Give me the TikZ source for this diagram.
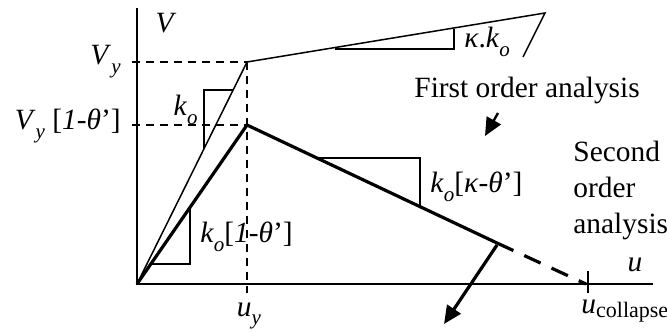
\documentclass[tikz,border=0pt]{standalone}
\usepackage{fontspec}
\setmainfont{Liberation Serif}
\usetikzlibrary{arrows.meta}
\newcommand{\lsub}[1]{\raisebox{-0.3em}{\fontsize{10.5}{12}\selectfont #1}}
\begin{document}
\begin{tikzpicture}[x=0.5pt,y=-0.5pt,
  thinline/.style={line width=0.75pt},
  boldline/.style={line width=1.6pt},
  dashline/.style={line width=0.75pt,dash pattern=on 4pt off 3pt},
  lbl/.style={inner sep=0pt,font=\fontsize{14.7}{17}\selectfont}]
\useasboundingbox (0,0) rectangle (667,331);
% key points
\coordinate (O) at (137,284);
\coordinate (Ytop) at (137,8);
\coordinate (Xend) at (653,284);
\coordinate (A) at (247,62);
\coordinate (B) at (545,13);
\coordinate (C) at (523,57);
\coordinate (P) at (247,125);
\coordinate (Q) at (497,243);
\coordinate (R) at (586,284);
\coordinate (Adl) at (132,62);
\coordinate (Pdl) at (132,125);
\coordinate (Ubot) at (247,293);
% axes
\draw[thinline] (Ytop) -- (O) -- (Xend);
% dashed guides
\draw[dashline] (Adl) -- (A);
\draw[dashline] (Pdl) -- (P);
\draw[dashline] (A) -- (Ubot);
% first order
\draw[thinline] (O) -- (A) -- (B) -- (C);
% second order
\draw[boldline,line join=miter] (O) -- (P) -- (Q);
\draw[boldline,dash pattern=on 9pt off 6pt] (Q) -- (R);
% collapse tick
\coordinate (Tt) at (588,271);
\coordinate (Tb) at (588,293);
\draw[thinline] (Tt) -- (Tb);
% slope triangles
\coordinate (k1a) at (204,149);
\coordinate (k1b) at (204,90);
\coordinate (k1c) at (233,90);
\draw[thinline] (k1a) -- (k1b) -- (k1c);
\coordinate (k2a) at (335,49);
\coordinate (k2b) at (454,49);
\coordinate (k2c) at (454,29);
\draw[thinline] (k2a) -- (k2b) -- (k2c);
\coordinate (k3a) at (319,158);
\coordinate (k3b) at (420,158);
\coordinate (k3c) at (420,205);
\draw[thinline] (k3a) -- (k3b) -- (k3c);
\coordinate (k4a) at (152,264);
\coordinate (k4b) at (190,264);
\coordinate (k4c) at (190,207);
\draw[thinline] (k4a) -- (k4b) -- (k4c);
% arrows
\coordinate (a1s) at (498,113);
\coordinate (a1e) at (485,136);
\draw[line width=1.2pt,-{Triangle[length=9pt,width=8pt]}] (a1s) -- (a1e);
\coordinate (a2s) at (497,245);
\coordinate (a2e) at (444,324);
\draw[line width=1.6pt,-{Triangle[length=9pt,width=8pt]}] (a2s) -- (a2e);
% labels
\node[lbl] (lV) at (166,23) {\textit{V}};
\node[lbl,anchor=east] (lVy) at (121,62) {\textit{V}\lsub{\textit{y}}};
\node[lbl,anchor=east] (lVy2) at (121,126) {\textit{V}\lsub{\textit{y}} [\textit{1}-\textit{θ}’]};
\node[lbl,anchor=east] (lko) at (198,110) {\textit{k}\lsub{\textit{o}}};
\node[lbl,anchor=west] (lkk) at (464,42) {\textit{κ}.\textit{k}\lsub{\textit{o}}};
\node[lbl,anchor=west] (lfirst) at (414,90) {First order analysis};
\node[lbl,anchor=base west] (lsec1) at (573,162) {Second};
\node[lbl,anchor=base west] (lsec2) at (573,197) {order};
\node[lbl,anchor=base west] (lsec3) at (573,233) {analysis};
\node[lbl,anchor=west] (lk3) at (430,187) {\textit{k}\lsub{\textit{o}}[\textit{κ}-\textit{θ}’]};
\node[lbl,anchor=west] (lk4) at (200,237) {\textit{k}\lsub{\textit{o}}[\textit{1}-\textit{θ}’]};
\node[lbl] (luy) at (249,316) {\textit{u}\lsub{\textit{y}}};
\node[lbl] (lu) at (635,265) {\textit{u}};
\node[lbl,anchor=base west] (luc) at (581,313) {\textit{u}\raisebox{-0.15em}{\fontsize{11}{12}\selectfont collapse}};
\end{tikzpicture}
\end{document}
